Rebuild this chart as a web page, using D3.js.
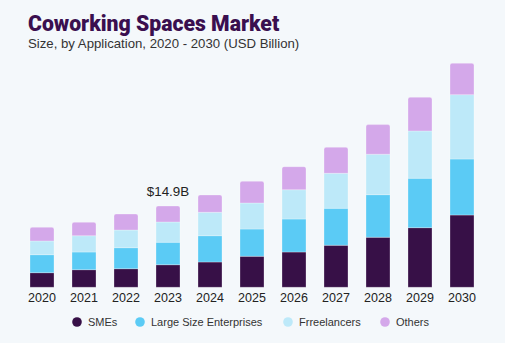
<!DOCTYPE html>
<html><head><meta charset="utf-8">
<script src="https://cdn.jsdelivr.net/npm/d3@7"></script>
<style>
html,body{margin:0;padding:0;background:#F4F8FB;}
svg{display:block;}
</style></head><body>
<svg id="c" width="505" height="343"></svg>
<script>
const years = ["2020","2021","2022","2023","2024","2025","2026","2027","2028","2029","2030"];
const seriesNames = ["SMEs","Large Size Enterprises","Frreelancers","Others"];
const smes       = [2.68,3.23,3.41,4.14,4.64,5.68,6.47,7.70,9.17,10.93,13.25];
const largeEnt   = [3.30,3.24,3.85,4.11,4.82,5.00,6.05,6.78,7.81,9.06,10.27];
const freelancers= [2.51,2.99,3.24,3.72,4.29,4.77,5.37,6.42,7.41,8.67,11.79];
const others     = [2.51,2.46,2.93,2.93,3.17,3.98,4.22,4.77,5.43,6.18,5.76];
const annotation = {year:"2023", label:"$14.9B"};
const colors = ["#371047","#5BCBF5","#BDE9F9","#D4A8EA"];

const svg = d3.select("#c");
const rows = years.map((y,i)=>({year:y, s0:smes[i], s1:largeEnt[i], s2:freelancers[i], s3:others[i]}));
const keys = ["s0","s1","s2","s3"];
const stack = d3.stack().keys(keys)(rows);

const x = d3.scaleBand().domain(years).range([21,483]).paddingInner(0.4286).paddingOuter(0.2143);
const y = d3.scaleLinear().domain([0,45]).range([287.3, 287.3-45/0.1833]);

// title
svg.append("text").attr("x",28).attr("y",31)
  .style("font-family","Roboto, 'Liberation Sans', sans-serif").style("font-weight",900)
  .style("font-size","21.2px").attr("fill","#3A0F4F").text("Coworking Spaces Market");
svg.append("text").attr("x",28).attr("y",48)
  .style("font-family","'Liberation Sans', Arial, sans-serif").style("font-size","13.2px")
  .attr("fill","#333").text("Size, by Application, 2020 - 2030 (USD Billion)");

const g = svg.append("g");
stack.forEach((layer,li)=>{
  g.selectAll(null).data(layer).enter().append("path")
    .attr("fill",colors[li])
    .attr("stroke","rgba(255,255,255,0.35)").attr("stroke-width",0.8)
    .attr("d",d=>{
      const x0=x(d.data.year), w=x.bandwidth(), yt=y(d[1]), yb=y(d[0]);
      const r = li===3 ? 2 : 0;
      return `M${x0},${yb}V${yt+r}Q${x0},${yt} ${x0+r},${yt}H${x0+w-r}Q${x0+w},${yt} ${x0+w},${yt+r}V${yb}Z`;
    });
});

// x axis
const ax = svg.append("g").attr("transform","translate(0,287.3)")
  .call(d3.axisBottom(x).tickSize(0).tickPadding(6));
ax.select(".domain").remove();
ax.selectAll("text").style("font-family","'Liberation Sans', Arial, sans-serif")
  .style("font-size","12.5px").attr("fill","#222");

// annotation
const ai = years.indexOf(annotation.year);
svg.append("text").attr("x",x(annotation.year)+x.bandwidth()/2).attr("y",y(stack[3][ai][1])-10)
  .attr("text-anchor","middle")
  .style("font-family","'Liberation Sans', Arial, sans-serif").style("font-size","13.4px")
  .attr("fill","#222").text(annotation.label);

// legend
const legX = [77, 140, 288, 385];
const lg = svg.append("g").attr("transform","translate(0,322)");
seriesNames.forEach((n,i)=>{
  const gg = lg.append("g").attr("transform",`translate(${legX[i]},0)`);
  gg.append("circle").attr("cx",0).attr("cy",0).attr("r",4.8).attr("fill",colors[i]);
  gg.append("text").attr("x",11).attr("y",4).style("font-family","'Liberation Sans', Arial, sans-serif")
    .style("font-size","11px").attr("fill","#333").text(n);
});
</script>
</body></html>
